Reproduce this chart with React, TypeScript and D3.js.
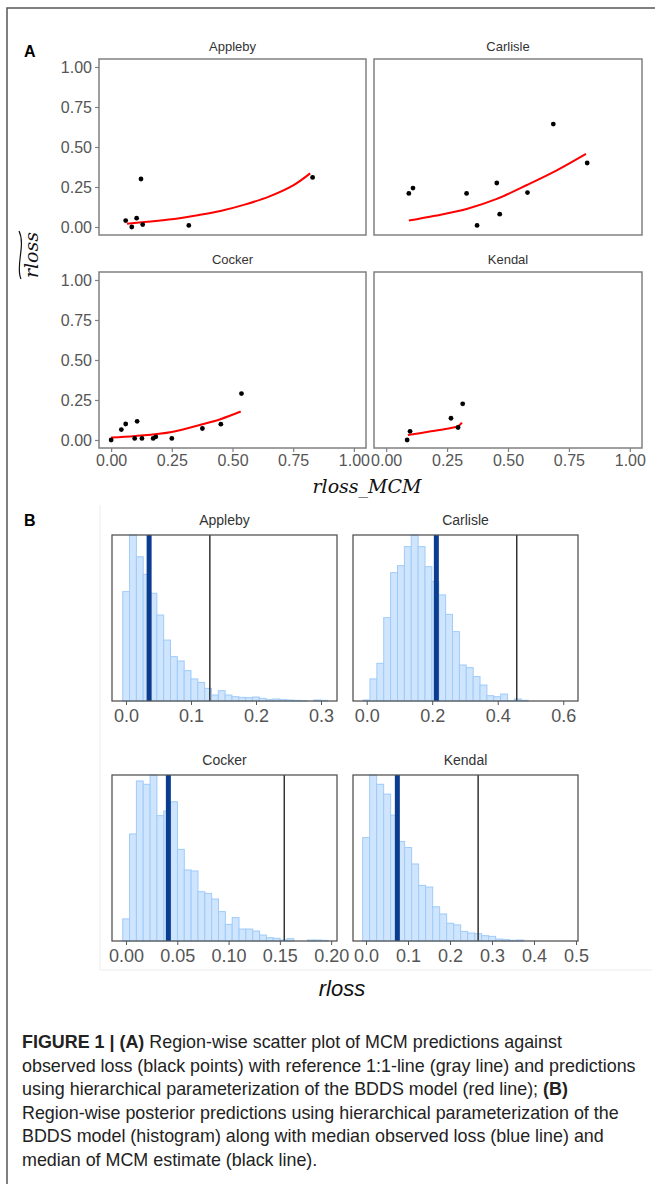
import React, { useEffect, useRef } from 'react';
import * as d3 from 'd3';

// ---- (A) observed loss vs MCM predictions, per region ----
const scatterRegions = ['Appleby', 'Carlisle', 'Cocker', 'Kendal'];
const scatterTicks = [0, 0.25, 0.5, 0.75, 1];

const applebyPoints = [[0.06, 0.04], [0.085, 0.0], [0.105, 0.055], [0.123, 0.30], [0.13, 0.015], [0.32, 0.01], [0.83, 0.31]];
const carlislePoints = [[0.093, 0.21], [0.11, 0.243], [0.33, 0.21], [0.373, 0.01], [0.454, 0.275], [0.466, 0.08], [0.58, 0.215], [0.686, 0.643], [0.825, 0.40]];
const cockerPoints = [[0.0, 0.0], [0.042, 0.065], [0.06, 0.10], [0.097, 0.01], [0.107, 0.117], [0.127, 0.01], [0.173, 0.01], [0.184, 0.02], [0.25, 0.01], [0.376, 0.072], [0.452, 0.099], [0.537, 0.29]];
const kendalPoints = [[0.086, 0.0], [0.098, 0.054], [0.266, 0.136], [0.295, 0.078], [0.314, 0.226]];

// red line: BDDS hierarchical predictions
const applebyFit = [[0.065, 0.02], [0.15, 0.033], [0.25, 0.048], [0.35, 0.072], [0.45, 0.10], [0.55, 0.14], [0.65, 0.19], [0.75, 0.26], [0.82, 0.335]];
const carlisleFit = [[0.093, 0.04], [0.2, 0.07], [0.33, 0.113], [0.454, 0.176], [0.58, 0.264], [0.70, 0.354], [0.82, 0.457]];
const cockerFit = [[0.0, 0.015], [0.1, 0.025], [0.25, 0.05], [0.376, 0.098], [0.45, 0.13], [0.534, 0.178]];
const kendalFit = [[0.089, 0.031], [0.184, 0.054], [0.266, 0.075], [0.294, 0.085], [0.311, 0.109]];

// ---- (B) posterior predictive histograms ----
const histRegions = ['Appleby', 'Carlisle', 'Cocker', 'Kendal'];
const histDomains = [[-0.0215, 0.3246], [-0.0418, 0.645], [-0.01365, 0.2057], [-0.031, 0.5048]];
const histTicks = [[0, 0.1, 0.2, 0.3], [0, 0.2, 0.4, 0.6], [0, 0.05, 0.1, 0.15, 0.2], [0, 0.1, 0.2, 0.3, 0.4, 0.5]];
const histTickFormats = ['.1f', '.1f', '.2f', '.1f'];
const binStarts = [-0.005, -0.011, -0.0032, -0.008];
const binWidths = [0.0105, 0.021, 0.00667, 0.01667];

const applebyCounts = [0.659, 1.0, 0.869, 0.763, 0.649, 0.518, 0.367, 0.267, 0.241, 0.183, 0.133, 0.112, 0.076, 0.036, 0.062, 0.036, 0.026, 0.022, 0.02, 0.024, 0.016, 0.008, 0.012, 0.008, 0.006, 0.004, 0.002, 0, 0.006, 0.004];
const carlisleCounts = [0.006, 0.133, 0.227, 0.502, 0.773, 0.815, 0.93, 1.0, 0.93, 0.809, 0.72, 0.639, 0.522, 0.418, 0.217, 0.201, 0.147, 0.096, 0.032, 0.026, 0.042, 0.002, 0.012, 0.004];
const cockerCounts = [0.133, 0.645, 0.964, 0.944, 1.0, 0.755, 0.783, 0.839, 0.552, 0.428, 0.422, 0.297, 0.287, 0.253, 0.177, 0.100, 0.141, 0.072, 0.072, 0.060, 0.036, 0.020, 0.016, 0.006, 0.014, 0, 0, 0.006, 0.006, 0.004];
const kendalCounts = [0.623, 1.0, 0.944, 0.885, 0.758, 0.60, 0.563, 0.464, 0.335, 0.325, 0.206, 0.163, 0.107, 0.097, 0.058, 0.048, 0.044, 0.032, 0.028, 0.012, 0.008, 0.004, 0.006];

const observedMedians = [0.0356, 0.2126, 0.0413, 0.0746];
const mcmMedians = [0.129, 0.458, 0.1543, 0.267];

const captionLines = [
    [['FIGURE 1 | (A)', true], [' Region-wise scatter plot of MCM predictions against', false]],
    [['observed loss (black points) with reference 1:1-line (gray line) and predictions', false]],
    [['using hierarchical parameterization of the BDDS model (red line); ', false], ['(B)', true]],
    [['Region-wise posterior predictions using hierarchical parameterization of the', false]],
    [['BDDS model (histogram) along with median observed loss (blue line) and', false]],
    [['median of MCM estimate (black line).', false]],
];

const FONT = "Arial, 'Liberation Sans', sans-serif";

const App = () => {
    const svgRef = useRef(null);

    useEffect(() => {
        const svg = d3.select(svgRef.current);
        svg.selectAll('*').remove();

        const width = 655, height = 1184;
        svg.append('rect').attr('width', width).attr('height', height).attr('fill', '#fff');

        // figure frame (open to the right and bottom)
        svg.append('path')
            .attr('d', `M7,${height} V8 H${width}`)
            .attr('fill', 'none')
            .attr('stroke', '#555')
            .attr('stroke-width', 1.5);

        svg.append('text').attr('x', 24).attr('y', 57).text('A')
            .attr('font-family', FONT).attr('font-weight', 'bold').attr('font-size', 16).attr('fill', '#000');
        svg.append('text').attr('x', 24).attr('y', 526).text('B')
            .attr('font-family', FONT).attr('font-weight', 'bold').attr('font-size', 16).attr('fill', '#000');

        // ---------- A ----------
        const scatterBoxes = [
            {x0: 99, x1: 366, y0: 59, y1: 235},
            {x0: 374, x1: 642, y0: 59, y1: 235},
            {x0: 99, x1: 366, y0: 272, y1: 448},
            {x0: 374, x1: 642, y0: 272, y1: 448},
        ];
        const scatterPoints = [applebyPoints, carlislePoints, cockerPoints, kendalPoints];
        const scatterFits = [applebyFit, carlisleFit, cockerFit, kendalFit];

        scatterRegions.forEach((name, i) => {
            const b = scatterBoxes[i];
            const x = d3.scaleLinear().domain([-0.05, 1.05]).range([b.x0, b.x1]);
            const y = d3.scaleLinear().domain([-0.05, 1.05]).range([b.y1, b.y0]);
            const g = svg.append('g');

            g.append('text')
                .attr('x', (b.x0 + b.x1) / 2).attr('y', b.y0 - 8)
                .attr('text-anchor', 'middle')
                .attr('font-family', FONT).attr('font-size', 13).attr('fill', '#333')
                .text(name);

            const line = d3.line().x(d => x(d[0])).y(d => y(d[1])).curve(d3.curveCatmullRom);
            g.append('path')
                .attr('d', line(scatterFits[i]))
                .attr('fill', 'none').attr('stroke', '#ff0000').attr('stroke-width', 2);

            g.selectAll('circle').data(scatterPoints[i]).enter().append('circle')
                .attr('cx', d => x(d[0])).attr('cy', d => y(d[1])).attr('r', 2.4)
                .attr('fill', '#000');

            g.append('rect')
                .attr('x', b.x0).attr('y', b.y0).attr('width', b.x1 - b.x0).attr('height', b.y1 - b.y0)
                .attr('fill', 'none').attr('stroke', '#808080').attr('stroke-width', 1.5);

            if (i % 2 === 0) {
                const yAxis = d3.axisLeft(y).tickValues(scatterTicks).tickFormat(d3.format('.2f')).tickSize(4).tickPadding(3);
                const ag = g.append('g').attr('transform', `translate(${b.x0},0)`).call(yAxis);
                ag.select('.domain').remove();
                ag.selectAll('line').attr('stroke', '#808080').attr('stroke-width', 1.2);
                ag.selectAll('text').attr('font-family', FONT).attr('font-size', 16).attr('fill', '#555');
            }
            if (i >= 2) {
                const xAxis = d3.axisBottom(x).tickValues(scatterTicks).tickFormat(d3.format('.2f')).tickSize(4).tickPadding(3);
                const ag = g.append('g').attr('transform', `translate(0,${b.y1})`).call(xAxis);
                ag.select('.domain').remove();
                ag.selectAll('line').attr('stroke', '#808080').attr('stroke-width', 1.2);
                ag.selectAll('text').attr('font-family', FONT).attr('font-size', 16).attr('fill', '#555');
            }
        });

        // axis titles of A
        svg.append('text')
            .attr('x', 367).attr('y', 493)
            .attr('text-anchor', 'middle')
            .attr('font-family', "'DejaVu Serif', serif").attr('font-style', 'italic').attr('font-size', 19)
            .attr('fill', '#111')
            .text('rloss_MCM');

        const yTitle = svg.append('g').attr('transform', 'translate(38,255) rotate(-90)');
        yTitle.append('text')
            .attr('text-anchor', 'middle')
            .attr('font-family', "'DejaVu Serif', serif").attr('font-style', 'italic').attr('font-size', 19)
            .attr('fill', '#111')
            .text('rloss');
        yTitle.append('path')
            .attr('d', 'M-24,-17 C-12,-23 10,-12 24,-19')
            .attr('fill', 'none').attr('stroke', '#111').attr('stroke-width', 1.2);

        // ---------- B ----------
        svg.append('path')
            .attr('d', 'M100,505 V970 H652')
            .attr('fill', 'none').attr('stroke', '#ececec').attr('stroke-width', 1);

        const histBoxes = [
            {x0: 112, x1: 337, y0: 535, y1: 701},
            {x0: 353, x1: 578, y0: 535, y1: 701},
            {x0: 112, x1: 337, y0: 775, y1: 941},
            {x0: 353, x1: 578, y0: 775, y1: 941},
        ];
        const histCounts = [applebyCounts, carlisleCounts, cockerCounts, kendalCounts];

        histRegions.forEach((name, i) => {
            const b = histBoxes[i];
            const x = d3.scaleLinear().domain(histDomains[i]).range([b.x0, b.x1]);
            const y = d3.scaleLinear().domain([0, d3.max(histCounts[i])]).range([b.y1, b.y0]);
            const g = svg.append('g');

            g.append('text')
                .attr('x', (b.x0 + b.x1) / 2).attr('y', b.y0 - 10)
                .attr('text-anchor', 'middle')
                .attr('font-family', FONT).attr('font-size', 14).attr('fill', '#333')
                .text(name);

            const bins = histCounts[i].map((c, k) => ({
                lo: binStarts[i] + k * binWidths[i],
                hi: binStarts[i] + (k + 1) * binWidths[i],
                c
            })).filter(d => d.c > 0);

            g.selectAll('rect.bar').data(bins).enter().append('rect')
                .attr('class', 'bar')
                .attr('x', d => x(d.lo)).attr('width', d => x(d.hi) - x(d.lo))
                .attr('y', d => y(d.c)).attr('height', d => y(0) - y(d.c))
                .attr('fill', '#cfe5fd').attr('stroke', '#9fcbf9').attr('stroke-width', 1);

            g.append('line')
                .attr('x1', x(observedMedians[i])).attr('x2', x(observedMedians[i]))
                .attr('y1', b.y0).attr('y2', b.y1)
                .attr('stroke', '#0a3d8f').attr('stroke-width', 5);
            g.append('line')
                .attr('x1', x(mcmMedians[i])).attr('x2', x(mcmMedians[i]))
                .attr('y1', b.y0).attr('y2', b.y1)
                .attr('stroke', '#333').attr('stroke-width', 1.5);

            g.append('rect')
                .attr('x', b.x0).attr('y', b.y0).attr('width', b.x1 - b.x0).attr('height', b.y1 - b.y0)
                .attr('fill', 'none').attr('stroke', '#555').attr('stroke-width', 1.3);

            const xAxis = d3.axisBottom(x).tickValues(histTicks[i]).tickFormat(d3.format(histTickFormats[i])).tickSize(4).tickPadding(4);
            const ag = g.append('g').attr('transform', `translate(0,${b.y1})`).call(xAxis);
            ag.select('.domain').remove();
            ag.selectAll('line').attr('stroke', '#555').attr('stroke-width', 1);
            ag.selectAll('text').attr('font-family', FONT).attr('font-size', 18).attr('fill', '#555');
        });

        svg.append('text')
            .attr('x', 342).attr('y', 996)
            .attr('text-anchor', 'middle')
            .attr('font-family', FONT).attr('font-style', 'italic').attr('font-size', 22)
            .attr('fill', '#111')
            .text('rloss');

        // ---------- caption ----------
        const caption = svg.append('g');
        captionLines.forEach((parts, li) => {
            const t = caption.append('text')
                .attr('x', 22).attr('y', 1048 + li * 23.6)
                .attr('font-family', FONT).attr('font-size', 17.9).attr('fill', '#222');
            parts.forEach(([s, bold]) => {
                t.append('tspan').attr('font-weight', bold ? 'bold' : 'normal').text(s);
            });
        });
    }, []);

    return (
        <svg ref={svgRef} width={655} height={1184}
            style={{position: 'absolute', left: 0, top: 0, display: 'block'}}></svg>
    );
};

export default App;
